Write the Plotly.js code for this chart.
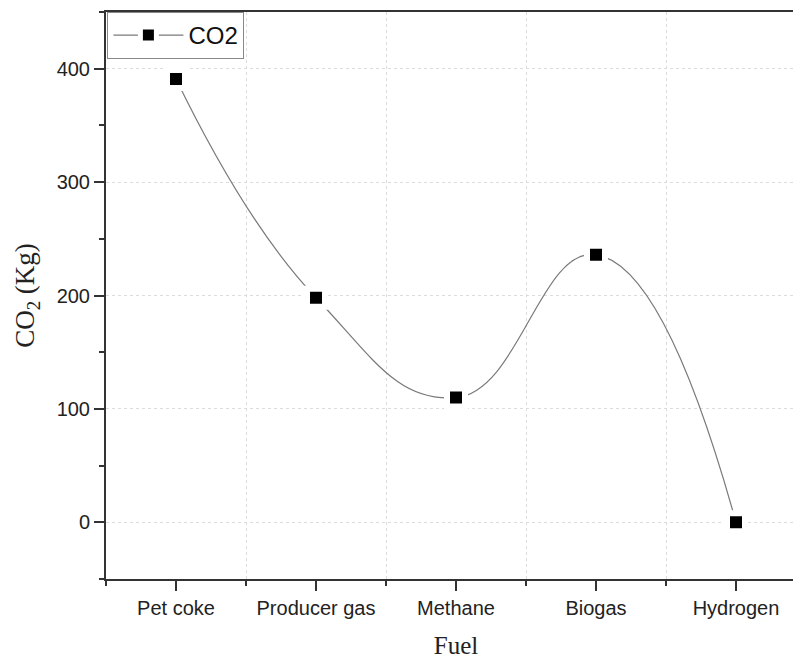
<!DOCTYPE html>
<html>
<head>
<meta charset="utf-8">
<script src="https://cdn.plot.ly/plotly-3.0.1.min.js"></script>
<style>
html,body{margin:0;padding:0;overflow:hidden;background:#fff;}
#chart{width:806px;height:659px;}
</style>
</head>
<body>
<div id="chart"></div>
<script>
const fuels = ["Pet coke", "Producer gas", "Methane", "Biogas", "Hydrogen"];
const co2 = [391, 198, 110, 236, 0];
const yTicks = [0, 100, 200, 300, 400];

const xIdx = fuels.map((f, i) => i);

const trace = {
  x: xIdx,
  y: co2,
  name: "CO2",
  mode: "lines+markers",
  line: {shape: "spline", smoothing: 1.3, color: "#7a7a7a", width: 1.2},
  marker: {symbol: "square", size: 18, color: "#000", line: {color: "#fff", width: 6}},
  cliponaxis: false
};

const layout = {
  width: 806,
  height: 659,
  margin: {l: 106, r: 0, t: 12, b: 80},
  paper_bgcolor: "#fff",
  plot_bgcolor: "#fff",
  showlegend: true,
  legend: {
    x: 0.002, y: 1, xanchor: "left", yanchor: "top",
    itemwidth: 70,
    bordercolor: "#888", borderwidth: 1, bgcolor: "#fff",
    font: {family: "Liberation Sans, Arial, sans-serif", size: 24, color: "#111"}
  },
  xaxis: {
    range: [-0.5, 4.5],
    tickvals: xIdx,
    ticktext: fuels,
    ticks: "outside", ticklen: 10, tickwidth: 2, tickcolor: "#333",
    showline: true, linewidth: 2, linecolor: "#333", mirror: true,
    showgrid: false, zeroline: false,
    tickfont: {family: "Liberation Sans, Arial, sans-serif", size: 20, color: "#222"},
    minor: {tick0: 0.5, dtick: 1, ticks: "outside", ticklen: 5, tickwidth: 2, tickcolor: "#333",
            showgrid: true, gridcolor: "#dcdcdc", griddash: "dot", gridwidth: 1},
    title: {text: "Fuel", standoff: 20, font: {family: "Liberation Serif, Times New Roman, serif", size: 25, color: "#222"}}
  },
  yaxis: {
    range: [-50, 450],
    tickvals: yTicks,
    ticks: "outside", ticklen: 10, tickwidth: 2, tickcolor: "#333",
    showline: true, linewidth: 2, linecolor: "#333",
    showgrid: true, gridcolor: "#dcdcdc", griddash: "dot", gridwidth: 1,
    zeroline: false,
    tickfont: {family: "Liberation Sans, Arial, sans-serif", size: 20, color: "#222"},
    minor: {dtick: 50, ticks: "outside", ticklen: 5, tickwidth: 2, tickcolor: "#333", showgrid: false},
    title: {text: "CO<sub>2</sub> (Kg)", standoff: 14, font: {family: "Liberation Serif, Times New Roman, serif", size: 27, color: "#222"}}
  }
};

Plotly.newPlot("chart", [trace], layout, {displayModeBar: false, responsive: false});
</script>
</body>
</html>
